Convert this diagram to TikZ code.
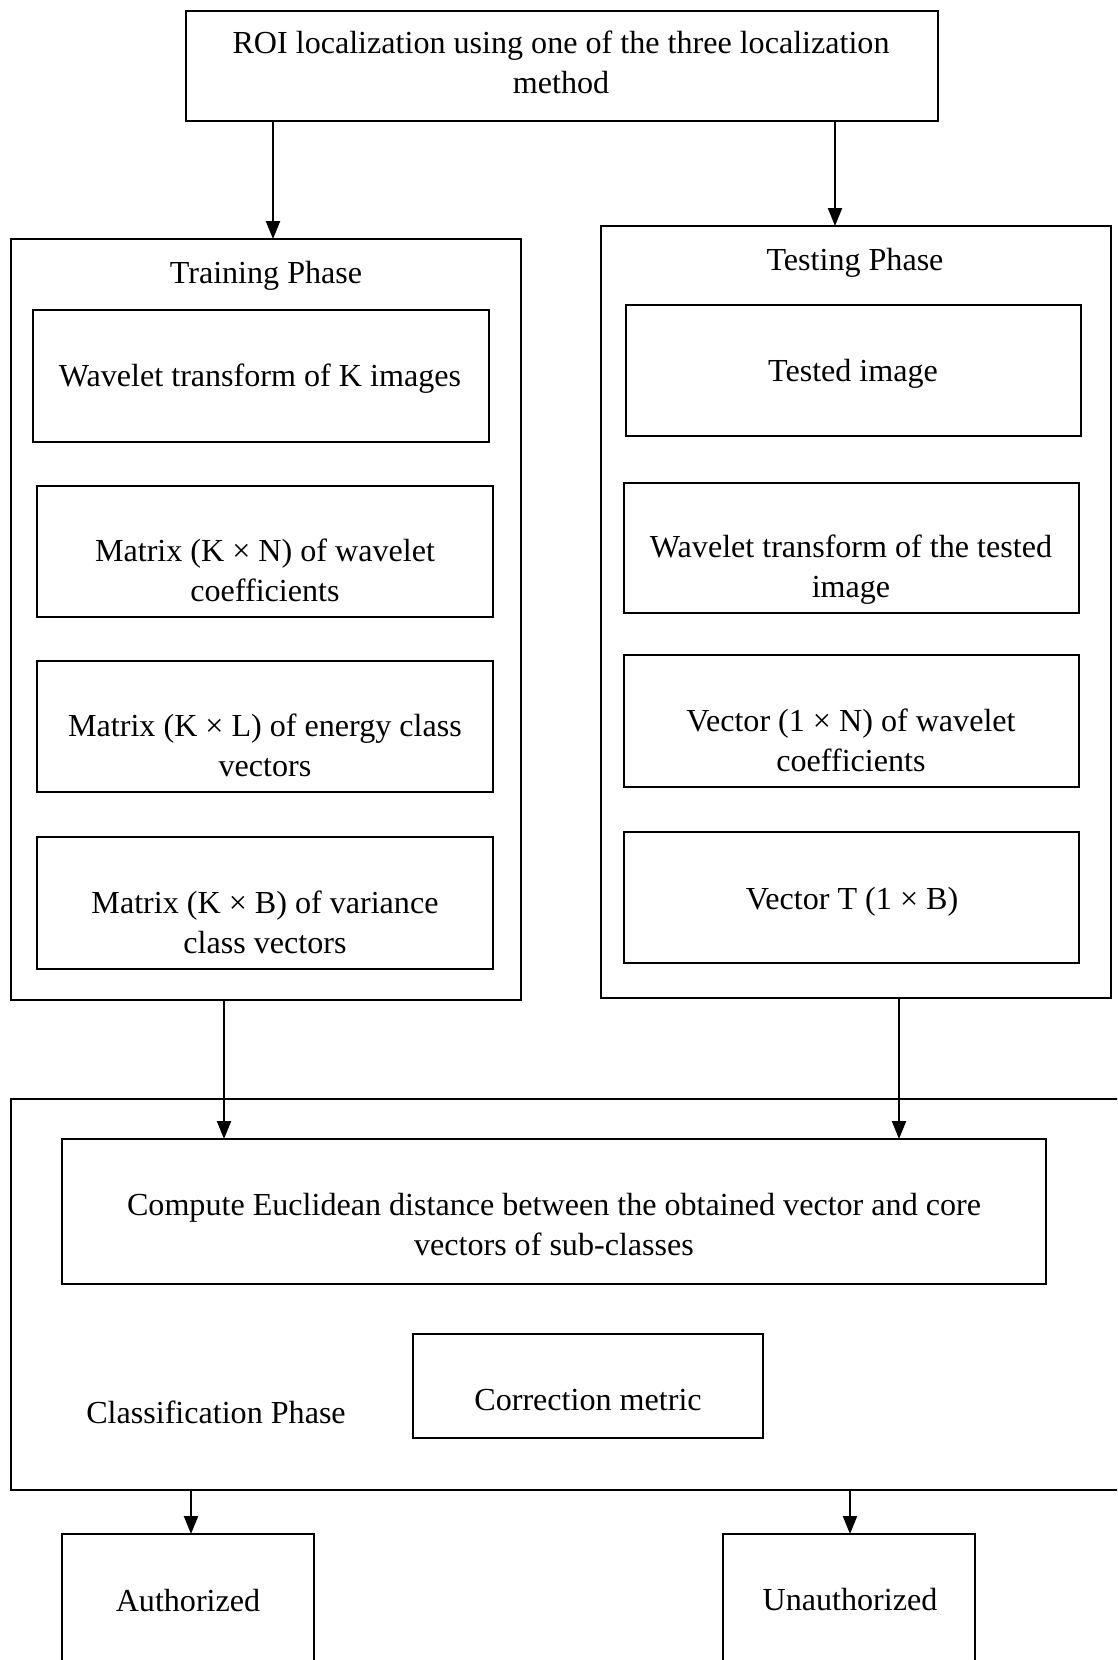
\documentclass[tikz,border=0pt]{standalone}
\usepackage{fontspec}
\setmainfont{Liberation Serif}
\usetikzlibrary{arrows.meta}
\begin{document}
\begin{tikzpicture}[x=1pt,y=-1pt,
  every node/.style={outer sep=0pt},
  blk/.style={draw, line width=2.2pt, inner sep=0pt},
  txt/.style={font=\fontsize{32.1}{39.2}\selectfont, align=center, anchor=base, inner sep=0pt},
  arr/.style={line width=2.2pt, -{Triangle[length=18pt,width=14pt]}}]
\useasboundingbox (0,0) rectangle (1117,1660);
\clip (0,0) rectangle (1117,1660);

% top box
\node[blk, minimum width=752pt, minimum height=110pt] (roi) at (562,66) {};
\node[txt] (roiT) at (561,93) {ROI localization using one of the three localization\\method};

% training phase
\node[blk, minimum width=510pt, minimum height=761pt] (train) at (266,619.5) {};
\node[txt] (trainT) at (266,283) {Training Phase};
\node[blk, minimum width=456pt, minimum height=132pt] (t1) at (261,376) {};
\node[txt] (t1T) at (260,386) {Wavelet transform of K images};
\node[blk, minimum width=456pt, minimum height=131pt] (t2) at (265,551.5) {};
\node[txt] (t2T) at (265,601) {Matrix (K × N) of wavelet\\coefficients};
\node[blk, minimum width=456pt, minimum height=131pt] (t3) at (265,726.5) {};
\node[txt] (t3T) at (265,776) {Matrix (K × L) of energy class\\vectors};
\node[blk, minimum width=456pt, minimum height=132pt] (t4) at (265,903) {};
\node[txt] (t4T) at (265,953) {Matrix (K × B) of variance\\class vectors};

% testing phase
\node[blk, minimum width=510pt, minimum height=772pt] (test) at (856,612) {};
\node[txt] (testT) at (855,270) {Testing Phase};
\node[blk, minimum width=455pt, minimum height=131pt] (s1) at (853.5,370.5) {};
\node[txt] (s1T) at (853,381) {Tested image};
\node[blk, minimum width=455pt, minimum height=130pt] (s2) at (851.5,548) {};
\node[txt] (s2T) at (851,597) {Wavelet transform of the tested\\image};
\node[blk, minimum width=455pt, minimum height=132pt] (s3) at (851.5,721) {};
\node[txt] (s3T) at (851,771) {Vector (1 × N) of wavelet\\coefficients};
\node[blk, minimum width=455pt, minimum height=131pt] (s4) at (851.5,897.5) {};
\node[txt] (s4T) at (852,909) {Vector T (1 × B)};

% classification phase
\node[blk, minimum width=1119pt, minimum height=391pt] (cls) at (570.5,1294.5) {};
\node[blk, minimum width=984pt, minimum height=145pt] (comp) at (554,1211.5) {};
\node[txt] (compT) at (554,1255) {Compute Euclidean distance between the obtained vector and core\\vectors of sub-classes};
\node[blk, minimum width=350pt, minimum height=104pt] (corr) at (588,1386) {};
\node[txt] (corrT) at (588,1410) {Correction metric};
\node[txt] (clsT) at (216,1423) {Classification Phase};

% outcomes
\node[blk, minimum width=252pt, minimum height=166pt] (auth) at (188,1617) {};
\node[txt] (authT) at (188,1611) {Authorized};
\node[blk, minimum width=252pt, minimum height=166pt] (unauth) at (849,1617) {};
\node[txt] (unauthT) at (850,1610) {Unauthorized};

% connector columns
\coordinate (xa) at (273,0);
\coordinate (xb) at (835,0);
\coordinate (xc) at (224,0);
\coordinate (xd) at (899,0);
\coordinate (xe) at (191,0);
\coordinate (xf) at (850,0);

\draw[arr] (roi.south -| xa) -- (train.north -| xa);
\draw[arr] (roi.south -| xb) -- (test.north -| xb);
\draw[arr] (train.south -| xc) -- (comp.north -| xc);
\draw[arr] (test.south -| xd) -- (comp.north -| xd);
\draw[arr] (cls.south -| xe) -- (auth.north -| xe);
\draw[arr] (cls.south -| xf) -- (unauth.north -| xf);
\end{tikzpicture}
\end{document}
